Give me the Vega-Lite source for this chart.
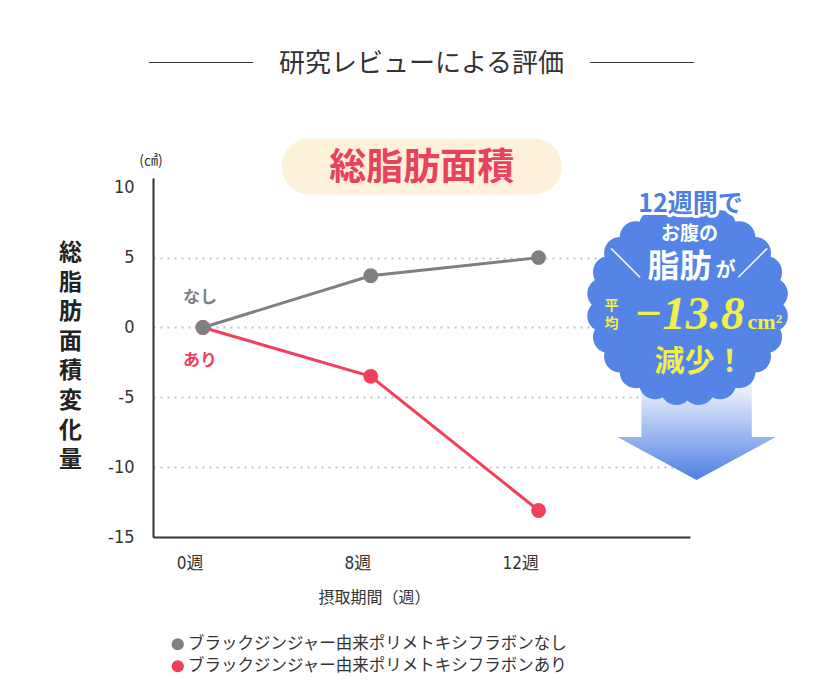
{
  "$schema": "https://vega.github.io/schema/vega-lite/v6.json",
  "width": 537,
  "height": 359,
  "autosize": {"type": "none"},
  "padding": {"left": 153, "top": 178, "right": 149, "bottom": 159},
  "background": "white",
  "title": {
    "text": "────　研究レビューによる評価　────",
    "font": "Noto Sans CJK JP",
    "fontSize": 26,
    "fontWeight": "normal",
    "color": "#333333",
    "anchor": "middle",
    "offset": 62
  },
  "config": {
    "view": {"stroke": null},
    "font": "Noto Sans CJK JP",
    "axis": {
      "domainColor": "#333333",
      "domainWidth": 2,
      "ticks": false,
      "labelColor": "#333333",
      "labelFont": "Liberation Sans Narrow, DejaVu Sans Condensed, Noto Sans CJK JP",
      "labelFontSize": 18,
      "titleColor": "#333333"
    }
  },
  "layer": [
    {
      "data": {"values": [{}]},
      "mark": {
        "type": "point",
        "shape": "M-0.69,-0.6L0.69,-0.6L0.69,0.34L0.99,0.34L0,0.875L-0.99,0.34L-0.69,0.34Z",
        "size": 25600,
        "filled": true,
        "opacity": 1,
        "strokeWidth": 0,
        "xOffset": 158,
        "fill": {
          "gradient": "linear",
          "x1": 0, "y1": 0, "x2": 0, "y2": 1,
          "stops": [
            {"offset": 0, "color": "#f7f9fe"},
            {"offset": 0.25, "color": "#e6edfb"},
            {"offset": 1, "color": "#4f7fe4"}
          ]
        }
      },
      "encoding": {
        "x": {"datum": "12週", "type": "nominal"},
        "y": {"datum": -5.9, "type": "quantitative"}
      }
    },
    {
      "data": {"values": [{}]},
      "mark": {
        "type": "point",
        "shape": "M0.9,0A0.15,0.15 0 0 1 0.8693,0.2329A0.15,0.15 0 0 1 0.7794,0.45A0.15,0.15 0 0 1 0.6364,0.6364A0.15,0.15 0 0 1 0.45,0.7794A0.15,0.15 0 0 1 0.2329,0.8693A0.15,0.15 0 0 1 0,0.9A0.15,0.15 0 0 1 -0.2329,0.8693A0.15,0.15 0 0 1 -0.45,0.7794A0.15,0.15 0 0 1 -0.6364,0.6364A0.15,0.15 0 0 1 -0.7794,0.45A0.15,0.15 0 0 1 -0.8693,0.2329A0.15,0.15 0 0 1 -0.9,0A0.15,0.15 0 0 1 -0.8693,-0.2329A0.15,0.15 0 0 1 -0.7794,-0.45A0.15,0.15 0 0 1 -0.6364,-0.6364A0.15,0.15 0 0 1 -0.45,-0.7794A0.15,0.15 0 0 1 -0.2329,-0.8693A0.15,0.15 0 0 1 0,-0.9A0.15,0.15 0 0 1 0.2329,-0.8693A0.15,0.15 0 0 1 0.45,-0.7794A0.15,0.15 0 0 1 0.6364,-0.6364A0.15,0.15 0 0 1 0.7794,-0.45A0.15,0.15 0 0 1 0.8693,-0.2329A0.15,0.15 0 0 1 0.9,0Z",
        "size": 45320,
        "filled": true,
        "opacity": 1,
        "strokeWidth": 0,
        "fill": "#5384e6",
        "xOffset": 149
      },
      "encoding": {
        "x": {"datum": "12週", "type": "nominal"},
        "y": {"datum": 1.63, "type": "quantitative"}
      }
    },
    {
      "data": {"values": [{}]},
      "mark": {
        "type": "point",
        "shape": "M-0.8,-0.2L0.8,-0.2A0.2,0.2 0 0 1 0.8,0.2L-0.8,0.2A0.2,0.2 0 0 1 -0.8,-0.2Z",
        "size": 78400,
        "filled": true,
        "opacity": 1,
        "strokeWidth": 0,
        "fill": "#fdf2d9",
        "xOffset": 51
      },
      "encoding": {
        "x": {"datum": "8週", "type": "nominal"},
        "y": {"datum": 11.52, "type": "quantitative"}
      }
    },
    {
      "data": {
        "values": [
          {"week": "0週", "series": "ブラックジンジャー由来ポリメトキシフラボンあり", "value": 0},
          {"week": "8週", "series": "ブラックジンジャー由来ポリメトキシフラボンあり", "value": -3.5},
          {"week": "12週", "series": "ブラックジンジャー由来ポリメトキシフラボンあり", "value": -13.1},
          {"week": "0週", "series": "ブラックジンジャー由来ポリメトキシフラボンなし", "value": 0},
          {"week": "8週", "series": "ブラックジンジャー由来ポリメトキシフラボンなし", "value": 3.7},
          {"week": "12週", "series": "ブラックジンジャー由来ポリメトキシフラボンなし", "value": 5.0}
        ]
      },
      "layer": [
        {
          "mark": {"type": "line", "strokeWidth": 3},
          "encoding": {
            "x": {
              "field": "week",
              "type": "nominal",
              "sort": ["0週", "8週", "12週"],
              "scale": {"type": "point", "domain": ["0週", "8週", "12週"], "padding": 0.6, "align": 0.248},
              "axis": {
                "title": "摂取期間（週）",
                "labelAngle": 0,
                "labelPadding": 26,
                "labelFontSize": 17,
                "titleFontSize": 16,
                "titleFontWeight": "normal",
                "titlePadding": 18,
                "titleX": 221,
                "grid": false
              }
            },
            "y": {
              "field": "value",
              "type": "quantitative",
              "scale": {"domain": [-15, 10.7], "nice": false, "zero": false},
              "axis": {
                "values": [-15, -10, -5, 0, 5, 10],
                "labelExpr": "replace(datum.label, '−', '-')",
                "labelPadding": 19,
                "grid": true,
                "gridColor": "#c4c4c4",
                "gridWidth": 2,
                "gridDash": [2, 5],
                "gridOpacity": {"condition": {"test": "datum.value == 10 || datum.value == -15", "value": 0}, "value": 1},
                "title": ["総", "脂", "肪", "面", "積", "変", "化", "量"],
                "titleAngle": 0,
                "titleAlign": "center",
                "titleBaseline": "top",
                "titleFont": "Noto Sans CJK JP",
                "titleFontSize": 23,
                "titleFontWeight": "bold",
                "titleColor": "#222222",
                "titleLineHeight": 29.6,
                "titleX": -83,
                "titleY": 63.5
              }
            },
            "color": {
              "field": "series",
              "type": "nominal",
              "scale": {
                "domain": ["ブラックジンジャー由来ポリメトキシフラボンなし", "ブラックジンジャー由来ポリメトキシフラボンあり"],
                "range": ["#808080", "#f0405b"]
              },
              "legend": {
                "title": null,
                "orient": "none",
                "legendX": 16.5,
                "legendY": 458,
                "direction": "vertical",
                "padding": 0,
                "symbolType": "circle",
                "symbolSize": 150,
                "symbolStrokeWidth": 0,
                "labelFont": "Noto Sans CJK JP",
                "labelFontSize": 16.5,
                "labelColor": "#333333",
                "labelOffset": 2,
                "rowPadding": 5,
                "labelLimit": 500
              }
            }
          }
        },
        {
          "mark": {"type": "point", "filled": true, "size": 220, "opacity": 1, "strokeWidth": 0},
          "encoding": {
            "x": {"field": "week", "type": "nominal", "sort": ["0週", "8週", "12週"]},
            "y": {"field": "value", "type": "quantitative"},
            "color": {"field": "series", "type": "nominal"}
          }
        }
      ]
    },
    {
      "data": {"values": [{}]},
      "mark": {"type": "text", "text": "なし", "font": "Noto Sans CJK JP", "fontSize": 17, "fontWeight": "bold", "fill": "#808080", "align": "center", "baseline": "middle", "xOffset": -3},
      "encoding": {"x": {"datum": "0週", "type": "nominal"}, "y": {"datum": 2.1, "type": "quantitative"}}
    },
    {
      "data": {"values": [{}]},
      "mark": {"type": "text", "text": "あり", "font": "Noto Sans CJK JP", "fontSize": 17, "fontWeight": "bold", "fill": "#f0405b", "align": "center", "baseline": "middle", "xOffset": -3},
      "encoding": {"x": {"datum": "0週", "type": "nominal"}, "y": {"datum": -2.4, "type": "quantitative"}}
    },
    {
      "data": {"values": [{}]},
      "mark": {"type": "text", "text": "(㎠)", "font": "Noto Sans CJK JP", "fontSize": 14, "fill": "#333333", "align": "center", "baseline": "middle", "xOffset": -52},
      "encoding": {"x": {"datum": "0週", "type": "nominal"}, "y": {"datum": 11.95, "type": "quantitative"}}
    },
    {
      "data": {"values": [{}]},
      "mark": {"type": "text", "text": "総脂肪面積", "font": "Noto Sans CJK JP", "fontSize": 37, "fontWeight": "bold", "fill": "#e9425c", "align": "center", "baseline": "middle", "xOffset": 51},
      "encoding": {"x": {"datum": "8週", "type": "nominal"}, "y": {"datum": 11.31, "type": "quantitative"}}
    },
    {
      "data": {"values": [{}]},
      "mark": {"type": "text", "text": "12週間で", "font": "Noto Sans CJK JP", "fontSize": 25, "fontWeight": "bold", "fill": "#ffffff", "stroke": "#ffffff", "strokeWidth": 6, "strokeJoin": "round", "align": "center", "baseline": "middle", "xOffset": 152},
      "encoding": {"x": {"datum": "12週", "type": "nominal"}, "y": {"datum": 8.87, "type": "quantitative"}}
    },
    {
      "data": {"values": [{}]},
      "mark": {"type": "text", "text": "12週間で", "font": "Noto Sans CJK JP", "fontSize": 25, "fontWeight": "bold", "fill": "#4c7fe2", "align": "center", "baseline": "middle", "xOffset": 152},
      "encoding": {"x": {"datum": "12週", "type": "nominal"}, "y": {"datum": 8.87, "type": "quantitative"}}
    },
    {
      "data": {"values": [{}]},
      "mark": {"type": "text", "text": "お腹の", "font": "Noto Sans CJK JP", "fontSize": 19, "fontWeight": "bold", "fill": "#ffffff", "align": "center", "baseline": "middle", "xOffset": 151},
      "encoding": {"x": {"datum": "12週", "type": "nominal"}, "y": {"datum": 6.68, "type": "quantitative"}}
    },
    {
      "data": {"values": [{}]},
      "mark": {"type": "text", "text": "＼", "font": "Noto Sans CJK JP", "fontSize": 32, "fill": "#ffffff", "align": "center", "baseline": "middle", "xOffset": 87},
      "encoding": {"x": {"datum": "12週", "type": "nominal"}, "y": {"datum": 4.47, "type": "quantitative"}}
    },
    {
      "data": {"values": [{}]},
      "mark": {"type": "text", "text": "／", "font": "Noto Sans CJK JP", "fontSize": 32, "fill": "#ffffff", "align": "center", "baseline": "middle", "xOffset": 214},
      "encoding": {"x": {"datum": "12週", "type": "nominal"}, "y": {"datum": 4.47, "type": "quantitative"}}
    },
    {
      "data": {"values": [{}]},
      "mark": {"type": "text", "text": "脂肪", "font": "Noto Sans CJK JP", "fontSize": 32, "fontWeight": "bold", "fill": "#ffffff", "align": "center", "baseline": "middle", "xOffset": 141},
      "encoding": {"x": {"datum": "12週", "type": "nominal"}, "y": {"datum": 4.32, "type": "quantitative"}}
    },
    {
      "data": {"values": [{}]},
      "mark": {"type": "text", "text": "が", "font": "Noto Sans CJK JP", "fontSize": 20, "fontWeight": "bold", "fill": "#ffffff", "align": "center", "baseline": "middle", "xOffset": 187},
      "encoding": {"x": {"datum": "12週", "type": "nominal"}, "y": {"datum": 4.03, "type": "quantitative"}}
    },
    {
      "data": {"values": [{}]},
      "mark": {"type": "text", "text": "平", "font": "Noto Sans CJK JP", "fontSize": 14, "fontWeight": "bold", "fill": "#f2ee4b", "align": "center", "baseline": "middle", "xOffset": 73},
      "encoding": {"x": {"datum": "12週", "type": "nominal"}, "y": {"datum": 1.56, "type": "quantitative"}}
    },
    {
      "data": {"values": [{}]},
      "mark": {"type": "text", "text": "均", "font": "Noto Sans CJK JP", "fontSize": 14, "fontWeight": "bold", "fill": "#f2ee4b", "align": "center", "baseline": "middle", "xOffset": 73},
      "encoding": {"x": {"datum": "12週", "type": "nominal"}, "y": {"datum": 0.27, "type": "quantitative"}}
    },
    {
      "data": {"values": [{}]},
      "mark": {"type": "text", "text": "−13.8", "font": "Liberation Serif", "fontSize": 47, "fontWeight": "bold", "fontStyle": "italic", "fill": "#f2ee4b", "align": "right", "baseline": "alphabetic", "xOffset": 206},
      "encoding": {"x": {"datum": "12週", "type": "nominal"}, "y": {"datum": -0.09, "type": "quantitative"}}
    },
    {
      "data": {"values": [{}]},
      "mark": {"type": "text", "text": "cm²", "font": "Liberation Serif", "fontSize": 22, "fontWeight": "bold", "fill": "#f2ee4b", "align": "left", "baseline": "alphabetic", "xOffset": 209},
      "encoding": {"x": {"datum": "12週", "type": "nominal"}, "y": {"datum": -0.09, "type": "quantitative"}}
    },
    {
      "data": {"values": [{}]},
      "mark": {"type": "text", "text": "減少！", "font": "Noto Sans CJK JP", "fontSize": 30, "fontWeight": "bold", "fill": "#f2ee4b", "align": "center", "baseline": "middle", "xOffset": 161},
      "encoding": {"x": {"datum": "12週", "type": "nominal"}, "y": {"datum": -2.49, "type": "quantitative"}}
    }
  ]
}
